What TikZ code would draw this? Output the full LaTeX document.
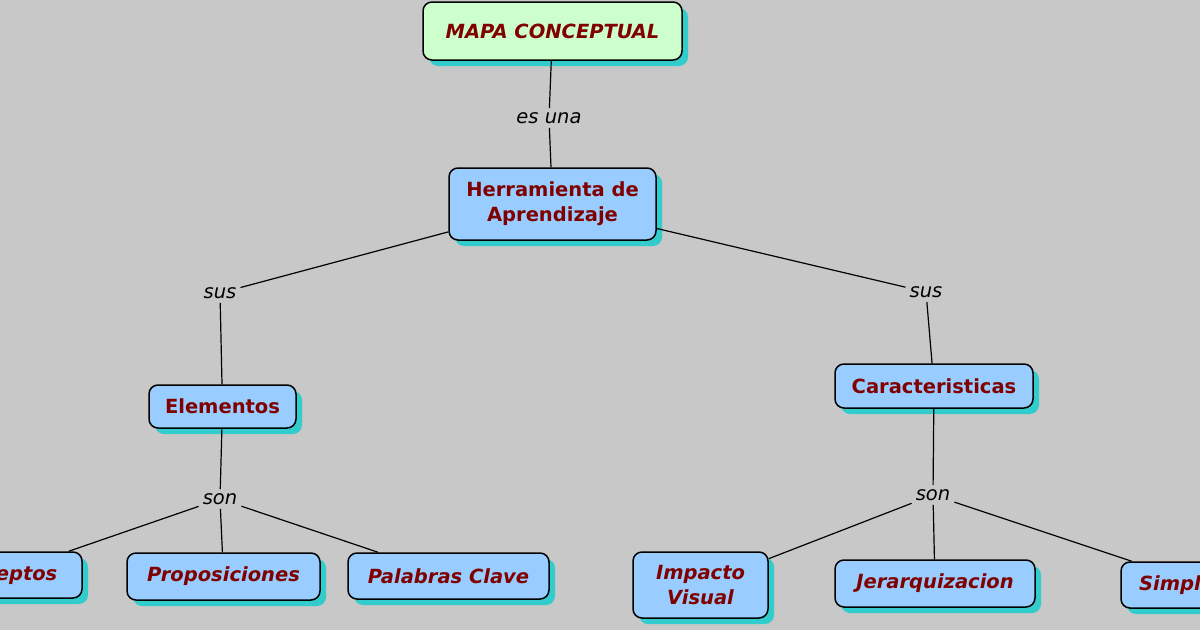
\documentclass[tikz,border=0pt]{standalone}
\usepackage{fontspec}
\setmainfont{DejaVu Sans}
\usetikzlibrary{shadows}
\definecolor{bg}{HTML}{C8C8C8}
\definecolor{txtred}{HTML}{800000}
\definecolor{shadowc}{HTML}{33CCCC}
\definecolor{greenfill}{HTML}{CCFFCC}
\definecolor{bluefill}{HTML}{99CCFF}
\tikzset{
  concept/.style={draw=black, line width=1.5pt, rounded corners=9pt, fill=bluefill,
    text=txtred, font=\fontsize{19.5}{25}\selectfont\bfseries, align=center, inner sep=0pt,
    drop shadow={shadow xshift=6pt, shadow yshift=-6pt, fill=shadowc, opacity=1}},
  iconcept/.style={concept, font=\fontsize{19.5}{25}\selectfont\bfseries\itshape},
  linklabel/.style={font=\fontsize{19.5}{24}\selectfont\itshape, text=black, inner sep=4pt},
  conn/.style={line width=1.2pt, draw=black}
}
\begin{document}
\begin{tikzpicture}[x=1pt,y=-1pt]
\useasboundingbox (0,0) rectangle (1200,630);
\clip (0,0) rectangle (1200,630);
\fill[bg] (0,0) rectangle (1200,630);

\node[iconcept, fill=greenfill, minimum width=259pt, minimum height=58pt] (mapa) at (552.5,31) {MAPA CONCEPTUAL};
\node[concept, minimum width=207pt, minimum height=72pt] (herr) at (552.5,204) {Herramienta de\\Aprendizaje};
\node[concept, minimum width=147pt, minimum height=43pt] (elem) at (222.5,406.5) {Elementos};
\node[concept, minimum width=198pt, minimum height=44pt] (carac) at (934,386) {Caracteristicas};
\node[iconcept, minimum width=164pt, minimum height=46pt] (conc) at (0,575) {Conceptos};
\node[iconcept, minimum width=193pt, minimum height=47pt] (prop) at (223.5,576.5) {Proposiciones};
\node[iconcept, minimum width=201pt, minimum height=46pt] (pal) at (448.5,576) {Palabras Clave};
\node[iconcept, minimum width=135pt, minimum height=66pt] (imp) at (700.5,585) {Impacto\\Visual};
\node[iconcept, minimum width=200pt, minimum height=47pt] (jer) at (935,583.5) {Jerarquizacion};
\node[iconcept, minimum width=164pt, minimum height=46pt] (simp) at (1203,585) {Simplicidad};

\node[linklabel] (esuna) at (549,118) {es una};
\node[linklabel] (susl) at (220,293) {sus};
\node[linklabel] (susr) at (926,292) {sus};
\node[linklabel] (sonl) at (220,499) {son};
\node[linklabel] (sonr) at (933,495) {son};

\draw[conn] (mapa) -- (esuna);
\draw[conn] (esuna) -- (herr);
\draw[conn] (herr) -- (susl);
\draw[conn] (susl) -- (elem);
\draw[conn] (herr) -- (susr);
\draw[conn] (susr) -- (carac);
\draw[conn] (elem) -- (sonl);
\draw[conn] (sonl) -- (conc);
\draw[conn] (sonl) -- (prop);
\draw[conn] (sonl) -- (pal);
\draw[conn] (carac) -- (sonr);
\draw[conn] (sonr) -- (imp);
\draw[conn] (sonr) -- (jer);
\draw[conn] (sonr) -- (simp);
\end{tikzpicture}
\end{document}
